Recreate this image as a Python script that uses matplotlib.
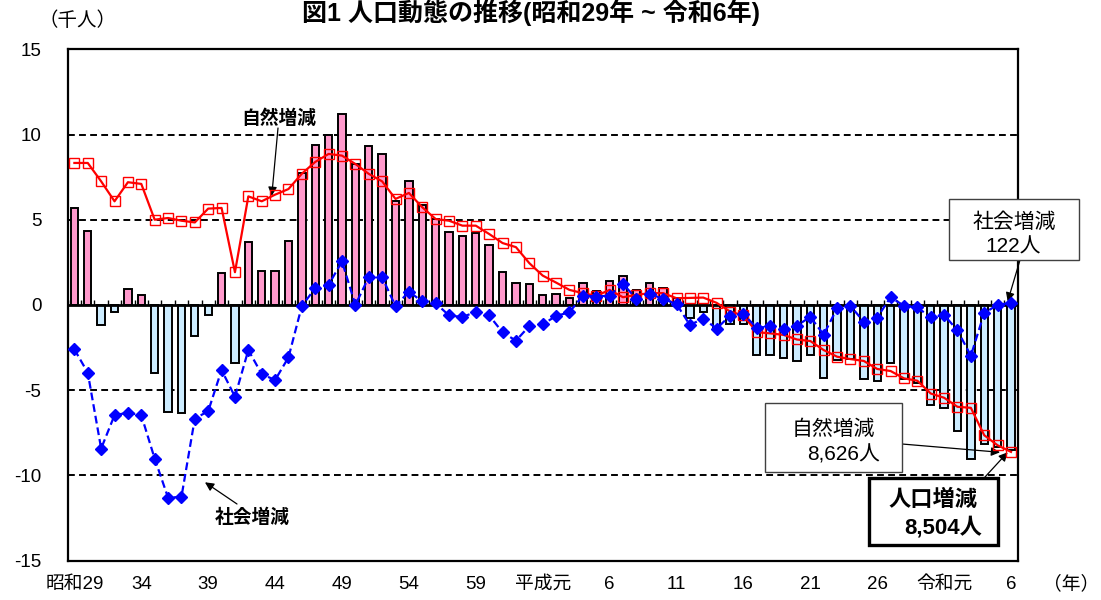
import matplotlib
matplotlib.use('Agg')
import matplotlib.pyplot as plt
from matplotlib.patches import Rectangle
import numpy as np

FONT = ['Liberation Sans', 'Noto Sans CJK JP', 'DejaVu Sans']
plt.rcParams['font.family'] = FONT

# ---------------- data (千人) ----------------
years = list(range(1954, 2025))

natural = [8.33, 8.33, 7.25, 6.08, 7.20, 7.10, 5.00, 5.10, 4.94, 4.84,
           5.65, 5.69, 1.92, 6.37, 6.08, 6.47, 6.80, 7.70, 8.39, 8.86,
           8.76, 8.27, 7.69, 7.25, 6.22, 6.57, 5.73, 5.04, 4.94, 4.65,
           4.65, 4.16, 3.63, 3.39, 2.45, 1.72, 1.31, 0.88, 0.69, 0.53,
           0.88, 0.45, 0.59, 0.69, 0.69, 0.39, 0.41, 0.43, 0.12, -0.39,
           -0.62, -1.60, -1.67, -1.76, -2.03, -2.12, -2.65, -3.04, -3.18, -3.29,
           -3.76, -3.88, -4.31, -4.45, -5.20, -5.45, -5.98, -6.04, -7.65, -8.24,
           -8.626]

social = [-2.61, -3.98, -8.43, -6.47, -6.33, -6.47, -9.02, -11.31, -11.27, -6.67,
          -6.24, -3.82, -5.39, -2.65, -4.06, -4.41, -3.08, -0.06, 0.98, 1.18,
          2.55, 0.00, 1.63, 1.63, -0.08, 0.78, 0.20, 0.10, -0.62, -0.71,
          -0.41, -0.62, -1.61, -2.10, -1.24, -1.14, -0.65, -0.43, 0.55, 0.49,
          0.55, 1.24, 0.35, 0.65, 0.35, 0.05, -1.18, -0.80, -1.39, -0.63,
          -0.54, -1.35, -1.26, -1.42, -1.22, -0.70, -1.75, -0.20, -0.05, -1.00,
          -0.74, 0.45, -0.05, -0.15, -0.73, -0.59, -1.50, -2.98, -0.47, 0.00,
          0.122]

total = [5.69, 4.35, -1.18, -0.39, 0.92, 0.59, -4.02, -6.27, -6.33, -1.82,
         -0.59, 1.86, -3.43, 3.67, 2.00, 2.00, 3.76, 7.75, 9.37, 10.00,
         11.22, 8.27, 9.31, 8.86, 6.12, 7.25, 5.84, 5.04, 4.27, 4.02,
         4.22, 3.49, 1.92, 1.31, 1.22, 0.57, 0.65, 0.41, 1.27, 0.84,
         1.42, 1.71, 0.86, 1.27, 1.01, 0.40, -0.78, -0.39, -1.27, -1.14,
         -1.15, -2.94, -2.92, -3.09, -3.28, -2.92, -4.31, -3.24, -3.20, -4.37,
         -4.45, -3.43, -4.35, -4.60, -5.90, -6.04, -7.40, -9.02, -8.14, -8.35,
         -8.504]

tick_years = [1954, 1959, 1964, 1969, 1974, 1979, 1984, 1989, 1994, 1999,
              2004, 2009, 2014, 2019, 2024]
tick_texts = ['昭和29', '34', '39', '44', '49', '54', '59', '平成元', '6', '11',
              '16', '21', '26', '令和元', '6']
y_ticks = [-15, -10, -5, 0, 5, 10, 15]
y_texts = ['-15', '-10', '-5', '0', '5', '10', '15']
grid_levels = [-10, -5, 5, 10]

# ---------------- figure ----------------
W, H = 1101, 600
fig = plt.figure(figsize=(W / 100, H / 100), dpi=100)


def fx(px):
    return px / W


def fy(py):
    return 1 - py / H


ax = fig.add_axes([fx(67.7), fy(560.5), fx(1017.7) - fx(67.7), fy(49.3) - fy(560.5)])

x = np.arange(len(years))
bar_colors = ['#FF99CC' if v >= 0 else '#CCECFF' for v in total]
ax.bar(x, total, width=0.55, color=bar_colors, edgecolor='black', linewidth=1.4, zorder=2)

for g in grid_levels:
    ax.axhline(g, color='black', lw=1.4, ls=(0, (3.5, 2.2)), zorder=1)
ax.axhline(0, color='black', lw=2.0, zorder=3)
ax.vlines(np.arange(len(years) + 1) - 0.5, 0, 0.3, color='black', lw=1.0, zorder=3)

ax.plot(x, natural, color='#FF0000', lw=1.6, marker='s', ms=7, mfc='none',
        mec='#FF0000', mew=1.0, zorder=4)
ax.plot(x, social, color='#0000FF', lw=1.6, ls=(0, (3.5, 1.8)), marker='D', ms=6.5,
        mfc='#0000FF', mec='#0000FF', zorder=5)

ax.set_xlim(-0.5, len(years) - 0.5)
ax.set_ylim(-15, 15)
ax.set_yticks(y_ticks)
ax.set_yticklabels(y_texts)
ax.set_xticks([years.index(y) for y in tick_years])
ax.set_xticklabels(tick_texts)
ax.tick_params(axis='y', length=0, pad=19, labelsize=13.5)
ax.tick_params(axis='x', length=0, pad=11, labelsize=13.5)
for s in ax.spines.values():
    s.set_linewidth(1.6)
    s.set_color('black')

# titles / units
fig.text(fx(531), fy(21), '図1 人口動態の推移(昭和29年 ~ 令和6年)', ha='center',
         va='baseline', fontsize=18, fontweight='bold')
fig.text(fx(77), fy(21), '（千人）', ha='center', va='center', fontsize=14)
fig.text(fx(1099), fy(584), '（年）', ha='right', va='center', fontsize=13.5)

arrow_kw = dict(arrowstyle='-|>', color='black', lw=0.9, mutation_scale=13,
                shrinkA=0, shrinkB=0)

# inline labels
fig.text(fx(279), fy(119), '自然増減', ha='center', va='center', fontsize=13.5,
         fontweight='bold')
ax.annotate('', xy=(14.75, 6.4), xycoords='data', xytext=(fx(278), fy(128)),
            textcoords='figure fraction', arrowprops=arrow_kw, annotation_clip=False)
fig.text(fx(252), fy(518), '社会増減', ha='center', va='center', fontsize=13.5,
         fontweight='bold')
ax.annotate('', xy=(9.76, -10.41), xycoords='data', xytext=(fx(237), fy(504)),
            textcoords='figure fraction', arrowprops=arrow_kw, annotation_clip=False)


def box(x0, y0, x1, y1, lw, ec):
    fig.add_artist(Rectangle((fx(x0), fy(y1)), fx(x1) - fx(x0), fy(y0) - fy(y1),
                             transform=fig.transFigure, facecolor='white',
                             edgecolor=ec, lw=lw, zorder=10))


# social box
ax.annotate('', xy=(69.75, 0.2), xycoords='data', xytext=(fx(1020), fy(260)),
            textcoords='figure fraction', arrowprops=arrow_kw, annotation_clip=False)
box(949, 199, 1079, 260, 1.0, '#404040')
fig.text(fx(1014), fy(222), '社会増減', ha='center', va='center', fontsize=15, zorder=11)
fig.text(fx(1013), fy(247), '122人', ha='center', va='center', fontsize=15, zorder=11)

# natural box
ax.annotate('', xy=(69.18, -8.65), xycoords='data', xytext=(fx(902), fy(444)),
            textcoords='figure fraction', arrowprops=arrow_kw, annotation_clip=False)
box(765, 403, 902, 472, 1.0, '#404040')
fig.text(fx(833), fy(429), '自然増減', ha='center', va='center', fontsize=15, zorder=11)
fig.text(fx(844), fy(455), '8,626人', ha='center', va='center', fontsize=15, zorder=11)

# population box
ax.annotate('', xy=(69.75, -8.65), xycoords='data', xytext=(fx(985), fy(477)),
            textcoords='figure fraction', arrowprops=arrow_kw, annotation_clip=False)
box(869, 478, 998, 545, 2.4, 'black')
fig.text(fx(933), fy(500), '人口増減', ha='center', va='center', fontsize=16,
         fontweight='bold', zorder=11)
fig.text(fx(943), fy(528), '8,504人', ha='center', va='center', fontsize=16,
         fontweight='bold', zorder=11)

fig.savefig('out.png', dpi=100)
